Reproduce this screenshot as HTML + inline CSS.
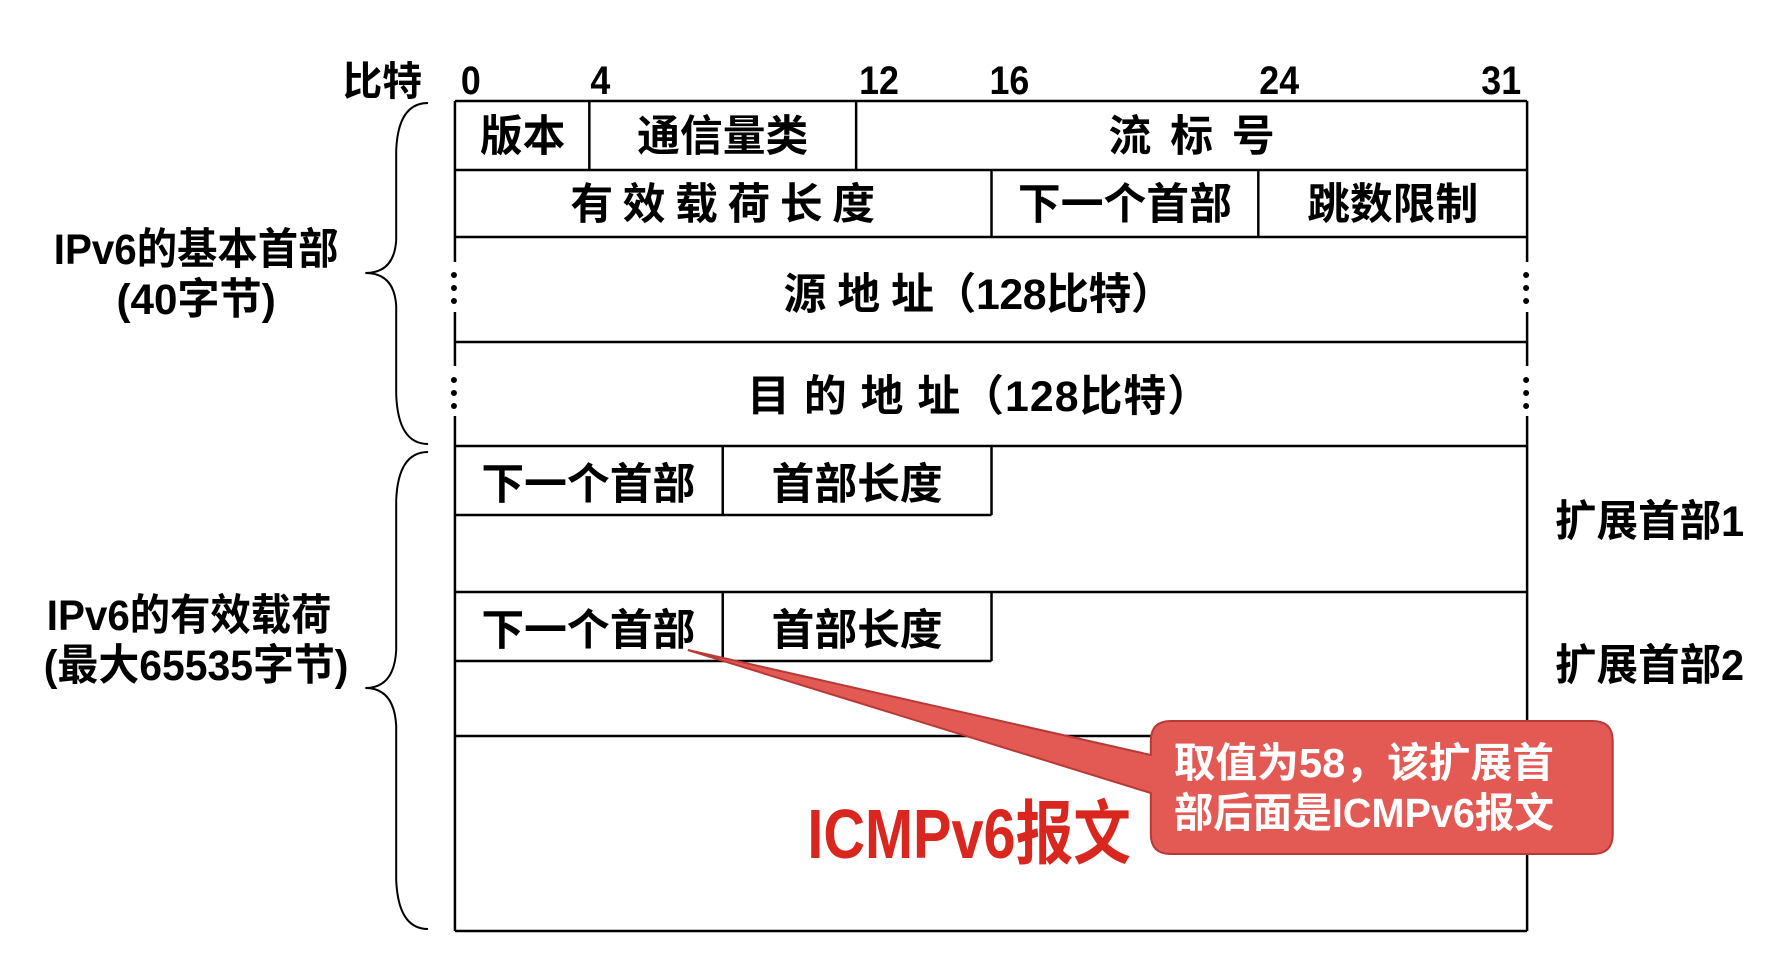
<!DOCTYPE html>
<html><head><meta charset="utf-8"><style>
html,body{margin:0;padding:0;background:#fff;width:1790px;height:972px;overflow:hidden}
svg{display:block}
text{font-family:"Liberation Sans","Noto Sans CJK SC",sans-serif;font-weight:bold;fill:#000}
</style></head><body>
<svg width="1790" height="972" viewBox="0 0 1790 972" xmlns="http://www.w3.org/2000/svg">
<g transform="scale(0.9955,1)">
<g stroke="#000" stroke-width="2.5" fill="none">
  <line x1="457" y1="101" x2="1534" y2="101"/>
  <line x1="457" y1="170" x2="1534" y2="170"/>
  <line x1="457" y1="237" x2="1534" y2="237"/>
  <line x1="457" y1="342" x2="1534" y2="342"/>
  <line x1="457" y1="446" x2="1534" y2="446"/>
  <line x1="457" y1="515" x2="996" y2="515"/>
  <line x1="457" y1="592" x2="1534" y2="592"/>
  <line x1="457" y1="661" x2="996" y2="661"/>
  <line x1="457" y1="736" x2="1534" y2="736"/>
  <line x1="457" y1="931" x2="1534" y2="931"/>
  <line x1="457" y1="101" x2="457" y2="262"/>
  <line x1="457" y1="312" x2="457" y2="366"/>
  <line x1="457" y1="416" x2="457" y2="931"/>
  <line x1="1534" y1="101" x2="1534" y2="262"/>
  <line x1="1534" y1="312" x2="1534" y2="366"/>
  <line x1="1534" y1="416" x2="1534" y2="931"/>
  <line x1="592" y1="101" x2="592" y2="170"/>
  <line x1="860" y1="101" x2="860" y2="170"/>
  <line x1="996" y1="170" x2="996" y2="237"/>
  <line x1="1264" y1="170" x2="1264" y2="237"/>
  <line x1="726" y1="446" x2="726" y2="515"/>
  <line x1="996" y1="446" x2="996" y2="515"/>
  <line x1="726" y1="592" x2="726" y2="661"/>
  <line x1="996" y1="592" x2="996" y2="661"/>
  <path d="M430 103 Q400 103 398 150 L398 240 Q396 273 367 273 Q396 273 398 306 L398 395 Q400 444 430 444" stroke-width="2"/>
  <path d="M430 452 Q400 452 398 500 L398 650 Q396 688 367 688 Q396 688 398 726 L398 880 Q400 929 430 929" stroke-width="2"/>
</g>
<g fill="#000">
  <circle cx="456" cy="275" r="3"/><circle cx="456" cy="288" r="3"/><circle cx="456" cy="301" r="3"/>
  <circle cx="1533" cy="275" r="3"/><circle cx="1533" cy="288" r="3"/><circle cx="1533" cy="301" r="3"/>
  <circle cx="456" cy="380" r="3"/><circle cx="456" cy="393" r="3"/><circle cx="456" cy="406" r="3"/>
  <circle cx="1533" cy="380" r="3"/><circle cx="1533" cy="393" r="3"/><circle cx="1533" cy="406" r="3"/>
</g>
<g font-size="40">
  <text x="384" y="95" text-anchor="middle">比特</text>
  <text x="473" y="94" text-anchor="middle" textLength="20" lengthAdjust="spacingAndGlyphs">0</text>
  <text x="603" y="94" text-anchor="middle" textLength="20" lengthAdjust="spacingAndGlyphs">4</text>
  <text x="883" y="94" text-anchor="middle" textLength="40" lengthAdjust="spacingAndGlyphs">12</text>
  <text x="1014" y="94" text-anchor="middle" textLength="40" lengthAdjust="spacingAndGlyphs">16</text>
  <text x="1285" y="94" text-anchor="middle" textLength="40" lengthAdjust="spacingAndGlyphs">24</text>
  <text x="1508" y="94" text-anchor="middle" textLength="40" lengthAdjust="spacingAndGlyphs">31</text>
</g>
<g font-size="43" text-anchor="middle">
  <text x="525" y="151">版本</text>
  <text x="726" y="151">通信量类</text>
  <text x="1197" y="151" textLength="167" lengthAdjust="spacing">流 标 号</text>
  <text x="726" y="219" textLength="306" lengthAdjust="spacing">有 效 载 荷 长 度</text>
  <text x="1130" y="219">下一个首部</text>
  <text x="1399" y="219">跳数限制</text>
  <text x="983" y="309" textLength="392" lengthAdjust="spacing">源  地  址（128比特）</text>
  <text x="983" y="411" textLength="465" lengthAdjust="spacing">目  的  地  址（128比特）</text>
  <text x="591" y="499">下一个首部</text>
  <text x="861" y="499">首部长度</text>
  <text x="591" y="645">下一个首部</text>
  <text x="861" y="645">首部长度</text>
  <text x="197" y="264" textLength="286" lengthAdjust="spacingAndGlyphs">IPv6的基本首部</text>
  <text x="197" y="314" textLength="160" lengthAdjust="spacingAndGlyphs">(40字节)</text>
  <text x="190" y="630" textLength="286" lengthAdjust="spacingAndGlyphs">IPv6的有效载荷</text>
  <text x="197" y="680" textLength="306" lengthAdjust="spacingAndGlyphs">(最大65535字节)</text>
  <text x="1657" y="536" textLength="190" lengthAdjust="spacingAndGlyphs">扩展首部1</text>
  <text x="1657" y="680" textLength="190" lengthAdjust="spacingAndGlyphs">扩展首部2</text>
</g>
<text x="811" y="858" font-size="70" textLength="325" lengthAdjust="spacingAndGlyphs" style="fill:#d9271f">ICMPv6报文</text>
<path d="M1176 721 L1600 721 Q1620 721 1620 741 L1620 834 Q1620 854 1600 854 L1176 854 Q1156 854 1156 834 L1156 793 L691 650 L1156 755 L1156 741 Q1156 721 1176 721 Z" fill="#e35a55" stroke="#b73a36" stroke-width="2"/>
<g font-size="41">
  <text x="1179" y="777" style="fill:#fff" textLength="382" lengthAdjust="spacingAndGlyphs">取值为58，该扩展首</text>
  <text x="1179" y="827" style="fill:#fff" textLength="382" lengthAdjust="spacingAndGlyphs">部后面是ICMPv6报文</text>
</g>
</g>
</svg>
</body></html>
